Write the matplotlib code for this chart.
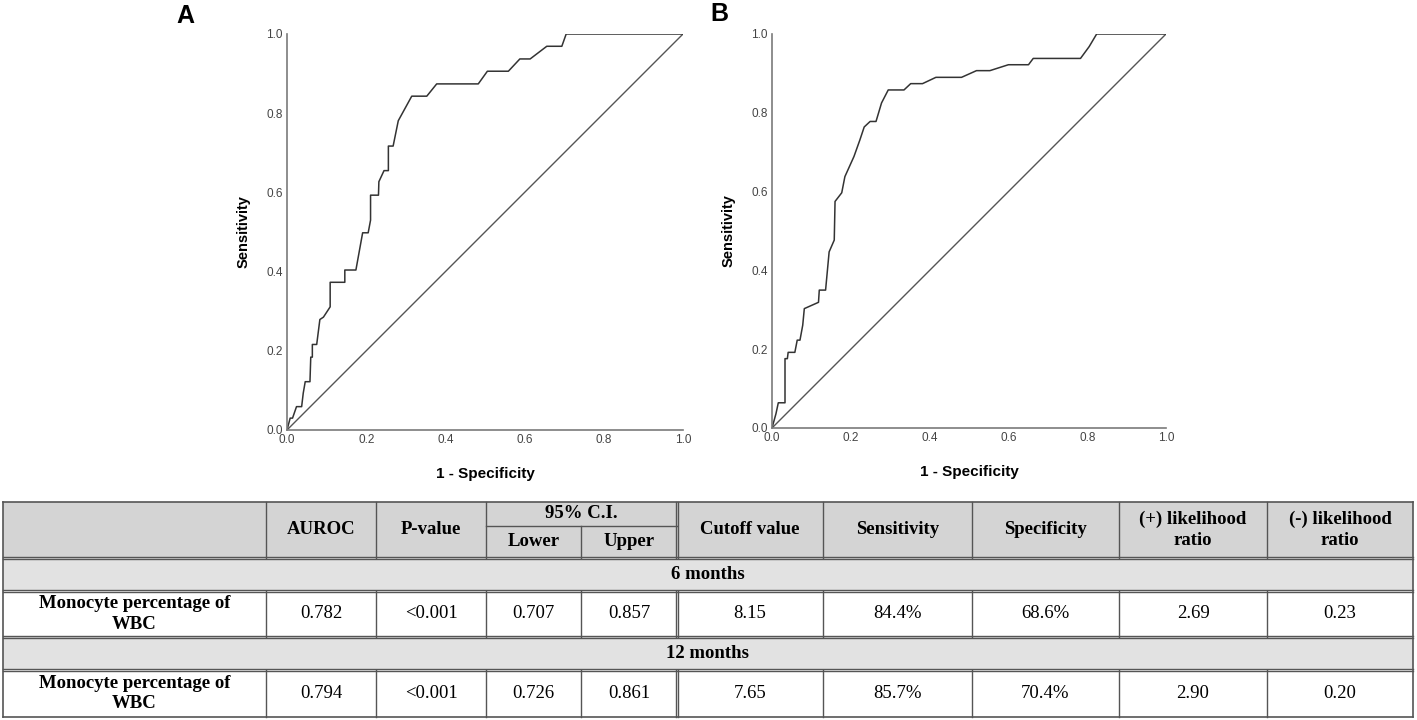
import matplotlib
matplotlib.use("Agg")
import matplotlib.pyplot as plt
from matplotlib.patches import Rectangle

W, H = 1417, 720

# ROC curve A (6 months)
fpr_a = [0, 0.008, 0.014, 0.024, 0.037, 0.041, 0.046, 0.058, 0.060, 0.064,
         0.064, 0.075, 0.083, 0.092, 0.109, 0.109, 0.146, 0.146, 0.174, 0.191,
         0.205, 0.211, 0.211, 0.231, 0.232, 0.245, 0.256, 0.256, 0.268, 0.281,
         0.315, 0.353, 0.378, 0.483, 0.506, 0.559, 0.588, 0.614, 0.656, 0.694,
         0.705, 1.0]
tpr_a = [0, 0.03, 0.03, 0.059, 0.059, 0.093, 0.122, 0.122, 0.184, 0.184,
         0.216, 0.216, 0.279, 0.285, 0.311, 0.373, 0.373, 0.404, 0.404, 0.498,
         0.498, 0.530, 0.593, 0.593, 0.627, 0.655, 0.655, 0.717, 0.717, 0.781,
         0.843, 0.843, 0.874, 0.874, 0.906, 0.906, 0.937, 0.937, 0.969, 0.969,
         1.0, 1.0]

# ROC curve B (12 months)
fpr_b = [0, 0.010, 0.016, 0.033, 0.033, 0.039, 0.041, 0.058, 0.064, 0.071,
         0.078, 0.082, 0.118, 0.120, 0.136, 0.145, 0.158, 0.160, 0.177, 0.185,
         0.208, 0.223, 0.234, 0.249, 0.264, 0.278, 0.295, 0.335, 0.352, 0.382,
         0.416, 0.481, 0.519, 0.553, 0.600, 0.651, 0.663, 0.783, 0.805, 0.824,
         1.0]
tpr_b = [0, 0.036, 0.064, 0.064, 0.176, 0.176, 0.192, 0.192, 0.223, 0.223,
         0.261, 0.303, 0.319, 0.350, 0.350, 0.447, 0.477, 0.575, 0.597, 0.638,
         0.689, 0.731, 0.764, 0.778, 0.778, 0.825, 0.858, 0.858, 0.874, 0.874,
         0.890, 0.890, 0.907, 0.907, 0.922, 0.922, 0.938, 0.938, 0.968, 1.0,
         1.0]

ticks = [0.0, 0.2, 0.4, 0.6, 0.8, 1.0]

# table content
header = ["", "AUROC", "P-value", "Lower", "Upper", "Cutoff value", "Sensitivity",
          "Specificity", "(+) likelihood\nratio", "(-) likelihood\nratio"]
ci_label = "95% C.I."
groups = ["6 months", "12 months"]
row_label = "Monocyte percentage of\nWBC"
values_6 = ["0.782", "<0.001", "0.707", "0.857", "8.15", "84.4%", "68.6%", "2.69", "0.23"]
values_12 = ["0.794", "<0.001", "0.726", "0.861", "7.65", "85.7%", "70.4%", "2.90", "0.20"]

col_x = [3, 266, 376, 486, 581, 677, 823, 972, 1119, 1267, 1413]
row_y = [502, 558, 591, 637, 670, 717]
ci_split_y = 526

fig = plt.figure(figsize=(W / 100, H / 100), dpi=100)
sans = ["Liberation Sans", "DejaVu Sans"]
serif = ["Liberation Serif", "DejaVu Serif"]


def roc_panel(rect, fpr, tpr, letter, letter_xy):
    ax = fig.add_axes(rect)
    ax.plot([0, 1], [0, 1], color="#555555", lw=1.0)
    ax.plot(fpr, tpr, color="#333333", lw=1.1)
    ax.set_xlim(0, 1)
    ax.set_ylim(0, 1)
    ax.set_xticks(ticks)
    ax.set_yticks(ticks)
    ax.set_xticklabels([f"{t:.1f}" for t in ticks], family=sans, fontsize=8.5, color="#444444")
    ax.set_yticklabels([f"{t:.1f}" for t in ticks], family=sans, fontsize=8.5, color="#444444")
    ax.tick_params(length=0, pad=3)
    for s in ["top", "right"]:
        ax.spines[s].set_visible(False)
    for s in ["left", "bottom"]:
        ax.spines[s].set_color("#7a7a7a")
        ax.spines[s].set_linewidth(1.2)
    ax.set_xlabel("1 - Specificity", family=sans, fontsize=11, fontweight="bold", labelpad=15)
    ax.set_ylabel("Sensitivity", family=sans, fontsize=10.5, fontweight="bold", labelpad=11)
    fig.text(letter_xy[0] / W, 1 - letter_xy[1] / H, letter, family=sans, fontsize=18,
             fontweight="bold", ha="center", va="center")
    return ax


roc_panel([287 / W, 1 - 430 / H, 396 / W, 396 / H], fpr_a, tpr_a, "A", (185, 16))
roc_panel([772 / W, 1 - 428 / H, 394 / W, 394 / H], fpr_b, tpr_b, "B", (719, 14))

# table drawn in pixel space
tax = fig.add_axes([0, 0, 1, 1])
tax.set_xlim(0, W)
tax.set_ylim(H, 0)
tax.axis("off")

left, right = col_x[0], col_x[-1]
line_c = "#555555"
tax.add_patch(Rectangle((left, row_y[0]), right - left, row_y[1] - row_y[0],
                        facecolor="#d4d4d4", edgecolor="none"))
for i in (1, 3):
    tax.add_patch(Rectangle((left, row_y[i]), right - left, row_y[i + 1] - row_y[i],
                            facecolor="#e2e2e2", edgecolor="none"))

# outer and horizontal lines
tax.plot([left, right], [row_y[0], row_y[0]], color=line_c, lw=1.2)
tax.plot([left, right], [row_y[-1], row_y[-1]], color=line_c, lw=1.2)
for y in row_y[1:-1]:
    tax.plot([left, right], [y - 1.2, y - 1.2], color=line_c, lw=1.0)
    tax.plot([left, right], [y + 1.2, y + 1.2], color=line_c, lw=1.0)
tax.plot([left, left], [row_y[0], row_y[-1]], color=line_c, lw=1.2)
tax.plot([right, right], [row_y[0], row_y[-1]], color=line_c, lw=1.2)
tax.plot([col_x[3], col_x[5]], [ci_split_y, ci_split_y], color=line_c, lw=1.0)

# vertical lines inside header and data rows
for (y0, y1) in [(row_y[0], row_y[1]), (row_y[2], row_y[3]), (row_y[4], row_y[5])]:
    for j, x in enumerate(col_x[1:-1], start=1):
        top = y0
        if j == 4 and y0 == row_y[0]:
            top = ci_split_y
        if j == 5:
            tax.plot([x - 1.3, x - 1.3], [y0, y1], color=line_c, lw=1.0)
            tax.plot([x + 1.3, x + 1.3], [y0, y1], color=line_c, lw=1.0)
        else:
            tax.plot([x, x], [top, y1], color=line_c, lw=1.0)

fs = 13.5
ls = 1.3
centers = [(col_x[k] + col_x[k + 1]) / 2 for k in range(len(col_x) - 1)]
hy = (row_y[0] + row_y[1]) / 2
for k, lab in enumerate(header):
    if k in (3, 4):
        tax.text(centers[k], (ci_split_y + row_y[1]) / 2, lab, family=serif, fontsize=fs,
                 fontweight="bold", ha="center", va="center")
    elif lab:
        tax.text(centers[k], hy, lab, family=serif, fontsize=fs, fontweight="bold",
                 ha="center", va="center", linespacing=ls)
tax.text((col_x[3] + col_x[5]) / 2, (row_y[0] + ci_split_y) / 2, ci_label, family=serif,
         fontsize=fs, fontweight="bold", ha="center", va="center")

for g, vals, r in [(groups[0], values_6, 1), (groups[1], values_12, 3)]:
    tax.text((left + right) / 2, (row_y[r] + row_y[r + 1]) / 2, g, family=serif,
             fontsize=fs, fontweight="bold", ha="center", va="center")
    yc = (row_y[r + 1] + row_y[r + 2]) / 2
    tax.text(centers[0], yc, row_label, family=serif, fontsize=fs, fontweight="bold",
             ha="center", va="center", linespacing=ls)
    for k, v in enumerate(vals, start=1):
        tax.text(centers[k], yc, v, family=serif, fontsize=fs, ha="center", va="center")

fig.savefig("out.png", dpi=100)
